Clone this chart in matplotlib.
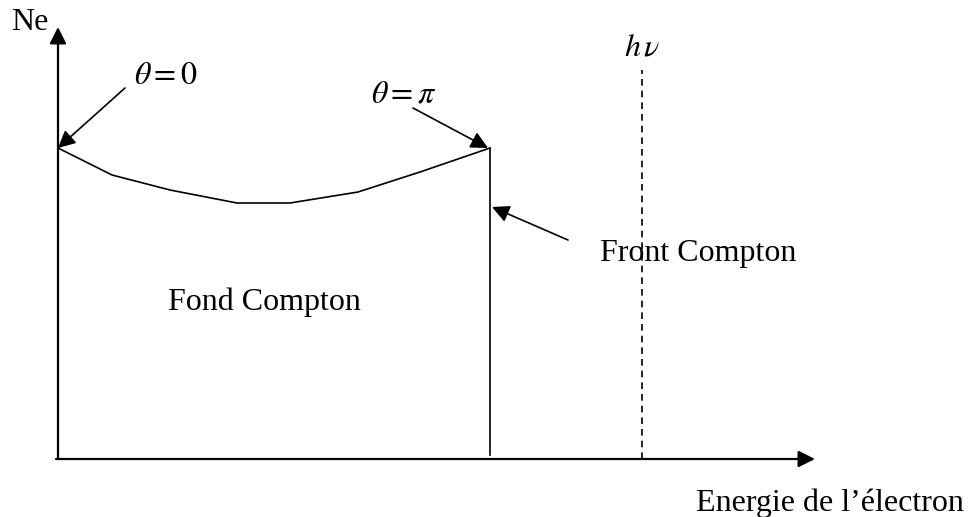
import matplotlib.pyplot as plt

plt.rcParams["font.family"] = ["Liberation Serif", "DejaVu Serif"]
plt.rcParams["mathtext.fontset"] = "stix"

# energy (x) and count (Ne) of the Compton continuum, in drawing units
energy = [0, 54, 112, 179, 232, 300, 362, 432]
ne = [311, 284, 269, 256, 256, 267, 287, 311]
compton_edge = 432
h_nu = 584

fig = plt.figure(figsize=(9.69, 5.17), dpi=100)
ax = fig.add_axes([0, 0, 1, 1])
ax.set_xlim(-58, 911)
ax.set_ylim(-58, 459)
ax.axis("off")

lw = 1.2
# axes with arrow heads
ax.annotate("", xy=(757, 0), xytext=(-2, 0),
            arrowprops=dict(arrowstyle="-|>", lw=1.6, color="black",
                            mutation_scale=25, shrinkA=0, shrinkB=0))
ax.annotate("", xy=(0, 432), xytext=(0, 0),
            arrowprops=dict(arrowstyle="-|>", lw=1.6, color="black",
                            mutation_scale=25, shrinkA=0, shrinkB=0))

# spectrum
ax.plot(energy, ne, color="black", lw=lw)
ax.plot([compton_edge, compton_edge], [ne[-1], 4], color="black", lw=lw)

# h nu line
ax.plot([h_nu, h_nu], [0, 389], color="black", lw=lw, ls=(0, (4, 3)))

fs = 23
ax.text(-28, 437, "Ne", fontsize=fs, ha="center", va="center")
ax.text(h_nu, 411, r"$h\,\nu$", fontsize=fs, ha="center", va="center")
ax.text(906, -44, "Energie de l\u2019électron", fontsize=fs, ha="right", va="center")
ax.text(206, 157, "Fond Compton", fontsize=fs, ha="center", va="center")

arr = dict(arrowstyle="-|>", lw=lw, color="black", mutation_scale=26,
           shrinkA=0, shrinkB=0)
ax.annotate("", xy=(energy[0], ne[0]), xytext=(67, 371), arrowprops=arr)
ax.text(108, 383, r"$\theta=0$", fontsize=fs, ha="center", va="center")

ax.annotate("", xy=(compton_edge - 2, ne[-1]), xytext=(355, 351), arrowprops=arr)
ax.text(346, 364, r"$\theta=\pi$", fontsize=fs, ha="center", va="center")

ax.annotate("", xy=(compton_edge + 2, 252), xytext=(510, 219), arrowprops=arr)
ax.text(640, 206, "Front Compton", fontsize=fs, ha="center", va="center")

fig.savefig("out.png", dpi=100)
